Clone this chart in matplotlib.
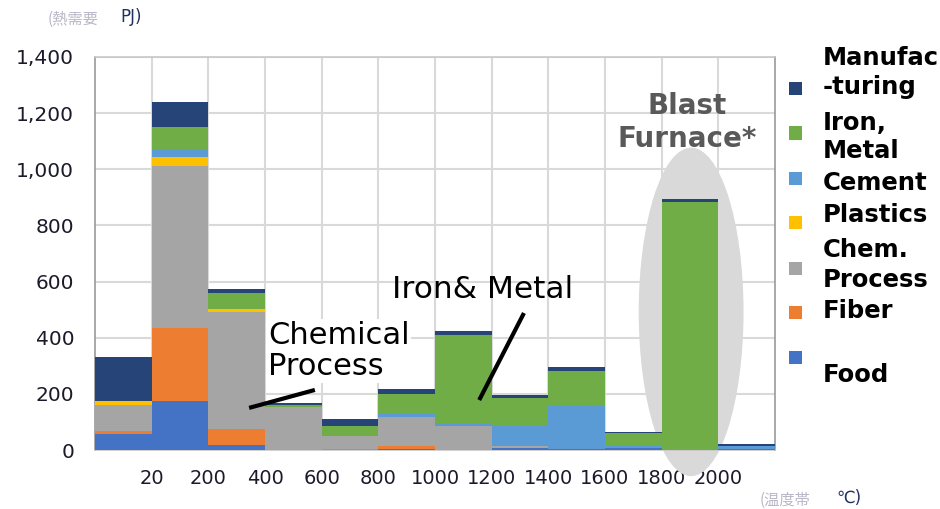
import numpy as np
from matplotlib import pyplot as plt
from matplotlib.patches import Ellipse, Rectangle

# temperature bins (12 columns) and tick labels at the bin edges
tick_labels = ['20', '200', '400', '600', '800', '1000', '1200', '1400', '1600', '1800', '2000']

# heat demand (PJ) per sector, stacked bottom -> top
food      = [57, 175, 18, 0, 0, 3, 0, 7, 5, 6, 0, 5]
fiber     = [12, 258, 57, 0, 5, 12, 0, 0, 0, 0, 0, 0]
chem      = [91, 579, 415, 152, 46, 103, 85, 8, 0, 0, 0, 0]
plastics  = [15, 32, 12, 0, 0, 0, 0, 0, 0, 0, 0, 0]
cement    = [0, 25, 0, 0, 0, 12, 12, 71, 150, 7, 0, 8]
iron      = [0, 83, 59, 8, 33, 69, 313, 100, 127, 47, 885, 0]
manufac   = [155, 88, 12, 7, 26, 20, 14, 10, 14, 5, 8, 8]

series = [food, fiber, chem, plastics, cement, iron, manufac]
colors = ['#4472C4', '#ED7D31', '#A5A5A5', '#FFC000', '#5B9BD5', '#70AD47', '#264478']

W, H = 940, 509
fig = plt.figure(figsize=(9.4, 5.09), dpi=100)
ax = fig.add_axes([95/W, 1-450/H, (775-95)/W, (450-57)/H])

x = np.arange(len(food)) + 0.5
bottom = np.zeros(len(food))
for vals, c in zip(series, colors):
    ax.bar(x, vals, width=1.0, bottom=bottom, color=c, linewidth=0, zorder=3)
    bottom += np.array(vals)

ax.set_xlim(0, 12)
ax.set_ylim(0, 1400)
ax.set_yticks(range(0, 1401, 200))
ax.set_yticklabels([f'{v:,}' for v in range(0, 1401, 200)], fontsize=14.5, color='#1a1a2a')
ax.set_xticks(range(1, 12))
ax.set_xticklabels(tick_labels, fontsize=14, color='#1a1a2a')
ax.tick_params(length=0)
ax.tick_params(axis='y', pad=15)
ax.tick_params(axis='x', pad=14)
ax.grid(True, color='#d9d9d9', lw=1.5, zorder=0)
for s in ax.spines.values():
    s.set_color('#c8c8c8')
    s.set_linewidth(1.2)
ax.spines['left'].set_color('#9a9a9a')
ax.spines['right'].set_color('#9a9a9a')

# blast furnace highlight
ax.add_patch(Ellipse((10.52, 492), 1.85, 1170, facecolor='#d9d9d9', edgecolor='none',
                     zorder=2, clip_on=False))
ax.text(10.45, 1166, 'Blast\nFurnace*', ha='center', va='center', fontsize=20,
        fontweight='bold', color='#595959', linespacing=1.25, zorder=4)

# annotations
ax.text(3.05, 267, 'Chemical\nProcess', fontsize=22, va='baseline', linespacing=1.1, zorder=5,
        bbox=dict(facecolor='white', edgecolor='none', pad=1))
ax.plot([2.72, 3.88], [150, 214], color='black', lw=3, zorder=6, solid_capstyle='butt')
ax.text(5.24, 541, 'Iron& Metal', fontsize=22.5, va='baseline', zorder=5)
ax.plot([6.78, 7.57], [178, 488], color='black', lw=3, zorder=5, solid_capstyle='butt')

# axis unit labels
fig.text(48/W, 1-24/H, '(熱需要', fontsize=11, color='#b8b8c8',
         family=['Noto Sans CJK JP', 'DejaVu Sans'], va='baseline')
fig.text(120/W, 1-22/H, 'PJ)', fontsize=12, color='#203060', va='baseline')
fig.text(760/W, 1-505/H, '(温度帯', fontsize=11, color='#b8b8c8',
         family=['Noto Sans CJK JP', 'DejaVu Sans'], va='baseline')
fig.text(836/W, 1-503/H, '℃)', fontsize=12, color='#203060', va='baseline',
         family=['DejaVu Sans', 'Noto Sans CJK JP'])

# legend drawn by hand to follow the original spacing
leg_lines = ['Manufac', '-turing', 'Iron,', 'Metal', 'Cement', 'Plastics',
             'Chem.', 'Process', 'Fiber', 'Food']
leg_base = [65, 94, 130, 158, 190, 222, 257, 287, 318, 382]
for t, yb in zip(leg_lines, leg_base):
    fig.text(823/W, 1-yb/H, t, fontsize=17.5, fontweight='bold', va='baseline')
leg_colors = ['#264478', '#70AD47', '#5B9BD5', '#FFC000', '#A5A5A5', '#ED7D31', '#4472C4']
leg_y = [88, 133, 178, 223, 268, 312.5, 357.5]
for c, yc in zip(leg_colors, leg_y):
    fig.patches.append(Rectangle((789/W, 1-(yc+6.5)/H), 13/W, 13/H, facecolor=c,
                                 edgecolor='none', transform=fig.transFigure))

fig.savefig('out.png', dpi=100)
